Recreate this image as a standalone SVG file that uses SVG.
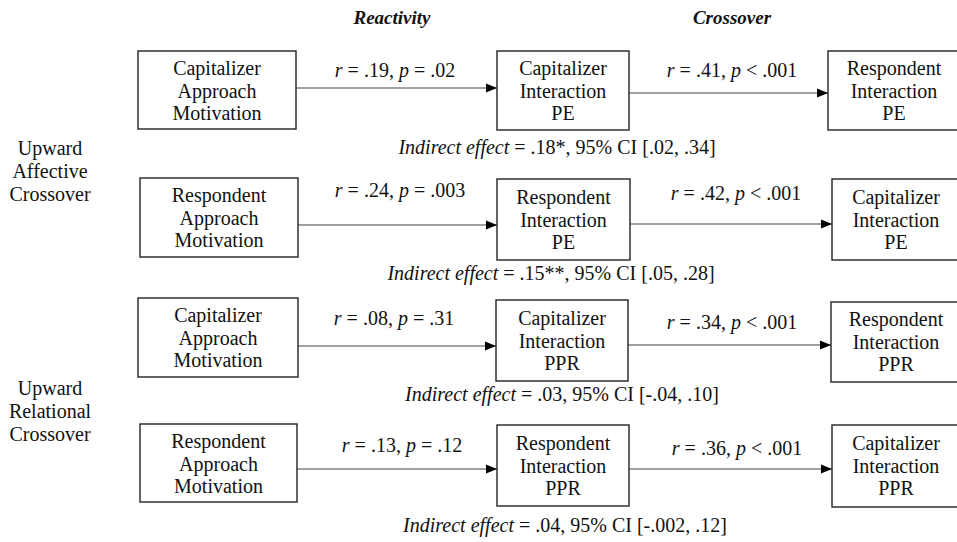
<svg xmlns="http://www.w3.org/2000/svg" width="957" height="542" viewBox="0 0 957 542" font-family="'Liberation Serif', 'Times New Roman', Tinos, 'DejaVu Serif', serif">
<style>
text{font-family:'Liberation Serif','Times New Roman',Tinos,'DejaVu Serif',serif;font-size:20px;fill:#111;text-anchor:middle}
.i{font-style:italic}
.h{font-weight:bold;font-style:italic;font-size:19px}
rect{fill:#fff;stroke:#222;stroke-width:1.4}
.c line{stroke:#444;stroke-width:1.2;marker-end:url(#ah)}
</style>
<defs>
<marker id="ah" markerUnits="userSpaceOnUse" markerWidth="12" markerHeight="10" refX="11" refY="5" orient="auto">
<path d="M0,0.5 L11,5 L0,9.5 z" fill="#000"/>
</marker>
</defs>
<text class="h" x="392" y="24">Reactivity</text>
<text class="h" x="732" y="24">Crossover</text>
<g id="label-affective">
<text x="50" y="155">Upward</text>
<text x="50" y="178">Affective</text>
<text x="50" y="201">Crossover</text>
</g>
<g id="label-relational">
<text x="50" y="395">Upward</text>
<text x="50" y="418">Relational</text>
<text x="50" y="441">Crossover</text>
</g>
<g class="c" id="connectors">
<line x1="296" y1="88" x2="497" y2="88"/>
<line x1="629" y1="93" x2="828" y2="93"/>
<line x1="298" y1="225" x2="497" y2="225"/>
<line x1="630" y1="224" x2="832" y2="224"/>
<line x1="298" y1="346" x2="496" y2="346"/>
<line x1="628" y1="345" x2="831" y2="345"/>
<line x1="297" y1="469" x2="497" y2="469"/>
<line x1="629" y1="469" x2="832" y2="469"/>
</g>
<g id="edge-labels">
<text x="395" y="77"><tspan class="i">r</tspan> = .19, <tspan class="i">p</tspan> = .02</text>
<text x="732" y="77"><tspan class="i">r</tspan> = .41, <tspan class="i">p</tspan> &lt; .001</text>
<text x="557" y="154"><tspan class="i">Indirect effect</tspan> = .18*, 95% CI [.02, .34]</text>
<text x="400" y="197"><tspan class="i">r</tspan> = .24, <tspan class="i">p</tspan> = .003</text>
<text x="736" y="200"><tspan class="i">r</tspan> = .42, <tspan class="i">p</tspan> &lt; .001</text>
<text x="551" y="280"><tspan class="i">Indirect effect</tspan> = .15**, 95% CI [.05, .28]</text>
<text x="394" y="325"><tspan class="i">r</tspan> = .08, <tspan class="i">p</tspan> = .31</text>
<text x="732" y="329"><tspan class="i">r</tspan> = .34, <tspan class="i">p</tspan> &lt; .001</text>
<text x="562" y="401"><tspan class="i">Indirect effect</tspan> = .03, 95% CI [-.04, .10]</text>
<text x="402" y="452"><tspan class="i">r</tspan> = .13, <tspan class="i">p</tspan> = .12</text>
<text x="737" y="455"><tspan class="i">r</tspan> = .36, <tspan class="i">p</tspan> &lt; .001</text>
<text x="565" y="532"><tspan class="i">Indirect effect</tspan> = .04, 95% CI [-.002, .12]</text>
</g>
<g id="n1a"><rect x="138" y="51" width="158" height="78"/><text x="217" y="75">Capitalizer</text><text x="217" y="97.5">Approach</text><text x="217" y="120">Motivation</text></g>
<g id="n1b"><rect x="497" y="51" width="132" height="79"/><text x="563" y="75">Capitalizer</text><text x="563" y="97.5">Interaction</text><text x="563" y="120">PE</text></g>
<g id="n1c"><rect x="828" y="51" width="134" height="79"/><text x="894" y="75">Respondent</text><text x="894" y="97.5">Interaction</text><text x="894" y="120">PE</text></g>
<g id="n2a"><rect x="140" y="178" width="158" height="79"/><text x="219" y="202">Respondent</text><text x="219" y="224.5">Approach</text><text x="219" y="247">Motivation</text></g>
<g id="n2b"><rect x="497" y="179" width="133" height="81"/><text x="563.5" y="204">Respondent</text><text x="563.5" y="226.5">Interaction</text><text x="563.5" y="249">PE</text></g>
<g id="n2c"><rect x="832" y="179" width="130" height="81"/><text x="896" y="204">Capitalizer</text><text x="896" y="226.5">Interaction</text><text x="896" y="249">PE</text></g>
<g id="n3a"><rect x="138" y="298" width="160" height="79"/><text x="218" y="322">Capitalizer</text><text x="218" y="344.5">Approach</text><text x="218" y="367">Motivation</text></g>
<g id="n3b"><rect x="496" y="300" width="132" height="81"/><text x="562" y="325">Capitalizer</text><text x="562" y="347.5">Interaction</text><text x="562" y="370">PPR</text></g>
<g id="n3c"><rect x="831" y="302" width="131" height="80"/><text x="896" y="326">Respondent</text><text x="896" y="348.5">Interaction</text><text x="896" y="371">PPR</text></g>
<g id="n4a"><rect x="140" y="424" width="157" height="78"/><text x="218.5" y="448">Respondent</text><text x="218.5" y="470.5">Approach</text><text x="218.5" y="493">Motivation</text></g>
<g id="n4b"><rect x="497" y="425" width="132" height="81"/><text x="563" y="450">Respondent</text><text x="563" y="472.5">Interaction</text><text x="563" y="495">PPR</text></g>
<g id="n4c"><rect x="832" y="425" width="130" height="82"/><text x="896" y="450">Capitalizer</text><text x="896" y="472.5">Interaction</text><text x="896" y="495">PPR</text></g>
</svg>
